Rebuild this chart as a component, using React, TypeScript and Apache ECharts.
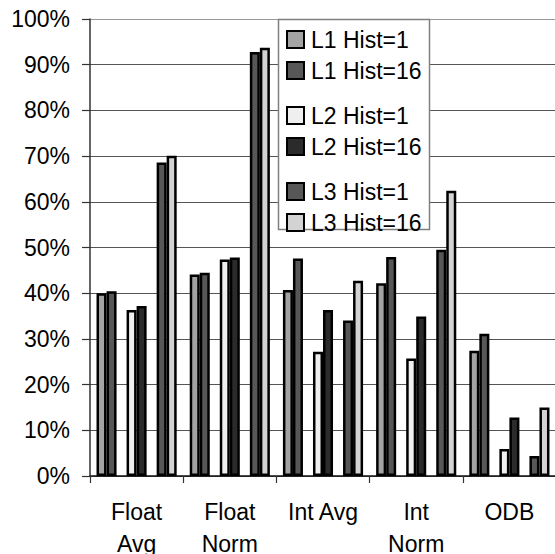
import React, { useEffect, useRef } from "react";
import * as echarts from "echarts";

const categories = ["Float\nAvg", "Float\nNorm", "Int Avg", "Int\nNorm", "ODB"];
const yTicks = [0, 10, 20, 30, 40, 50, 60, 70, 80, 90, 100];

const l1h1 = [40.0, 44.1, 40.7, 42.2, 27.4];
const l1h16 = [40.4, 44.5, 47.6, 47.9, 31.1];
const l2h1 = [36.3, 47.4, 27.2, 25.7, 5.9];
const l2h16 = [37.2, 47.8, 36.3, 34.9, 12.8];
const l3h1 = [68.6, 92.8, 34.0, 49.5, 4.4];
const l3h16 = [70.1, 93.7, 42.7, 62.4, 15.0];
const gap = ["-", "-", "-", "-", "-"];

const FONT = "'Liberation Sans', Arial, sans-serif";

export default function App() {
  const ref = useRef<HTMLDivElement>(null);
  useEffect(() => {
    if (!ref.current) return;
    const chart = echarts.init(ref.current, undefined, { renderer: "svg" });
    const mk = (name: string, data: any[], color: string) => ({
      name,
      type: "bar",
      data,
      barGap: "0%",
      barCategoryGap: "14%",
      itemStyle: { color, borderColor: "#000", borderWidth: 2.5 },
    });
    const gapSeries = (name: string) => ({
      name,
      type: "bar",
      data: gap,
      barGap: "0%",
      barCategoryGap: "14%",
      silent: true,
      itemStyle: { color: "transparent", borderWidth: 0 },
    });
    const legendBase = {
      orient: "vertical",
      left: 286,
      padding: 0,
      icon: "rect",
      itemWidth: 17,
      itemHeight: 17,
      itemGap: 8,
      z: 10,
      selectedMode: false,
      itemStyle: { borderColor: "#000", borderWidth: 2 },
      textStyle: { fontFamily: FONT, fontSize: 23, color: "#000", padding: [0, 0, 0, 2] },
    };
    chart.setOption({
      animation: false,
      backgroundColor: "#fff",
      grid: {
        left: 90,
        top: 19,
        width: 466,
        bottom: 78,
        containLabel: false,
        outerBoundsMode: "none",
      },
      graphic: [
        {
          type: "rect",
          z: 5,
          shape: { x: 278.5, y: 19.5, width: 151, height: 210 },
          style: { fill: "#fff", stroke: "#808080", lineWidth: 1.5 },
        },
      ],
      legend: [
        { ...legendBase, top: 28, data: ["L1 Hist=1", "L1 Hist=16"] },
        { ...legendBase, top: 104, data: ["L2 Hist=1", "L2 Hist=16"] },
        { ...legendBase, top: 180, data: ["L3 Hist=1", "L3 Hist=16"] },
      ],
      xAxis: {
        type: "category",
        data: categories,
        axisLine: { lineStyle: { color: "#111", width: 1.5 } },
        axisTick: { show: true, length: 7, lineStyle: { color: "#333", width: 1.2 } },
        axisLabel: {
          fontFamily: FONT,
          fontSize: 23,
          color: "#000",
          lineHeight: 32,
          margin: 20,
          interval: 0,
        },
      },
      yAxis: {
        type: "value",
        min: 0,
        max: 100,
        interval: 10,
        axisLine: { show: true, lineStyle: { color: "#333", width: 1.5 } },
        axisTick: { show: true, length: 8, lineStyle: { color: "#333", width: 1.2 } },
        axisLabel: {
          formatter: (v: number) => (yTicks.includes(v) ? v + "%" : ""),
          fontFamily: FONT,
          fontSize: 23,
          color: "#000",
          margin: 20,
        },
        splitLine: {
          show: true,
          lineStyle: {
            color: ["#555", "#555", "#555", "#555", "#555", "#555", "#555", "#555", "#555", "#555", "#999"],
            width: 1.2,
          },
        },
      },
      series: [
        mk("L1 Hist=1", l1h1, "#a3a3a3"),
        mk("L1 Hist=16", l1h16, "#575757"),
        gapSeries("gap1"),
        mk("L2 Hist=1", l2h1, "#efefef"),
        mk("L2 Hist=16", l2h16, "#2b2b2b"),
        gapSeries("gap2"),
        mk("L3 Hist=1", l3h1, "#575757"),
        mk("L3 Hist=16", l3h16, "#d3d3d3"),
      ],
    });
    return () => chart.dispose();
  }, []);
  return (
    <div
      ref={ref}
      style={{ position: "fixed", left: 0, top: 0, width: 555, height: 554, background: "#fff" }}
    />
  );
}
